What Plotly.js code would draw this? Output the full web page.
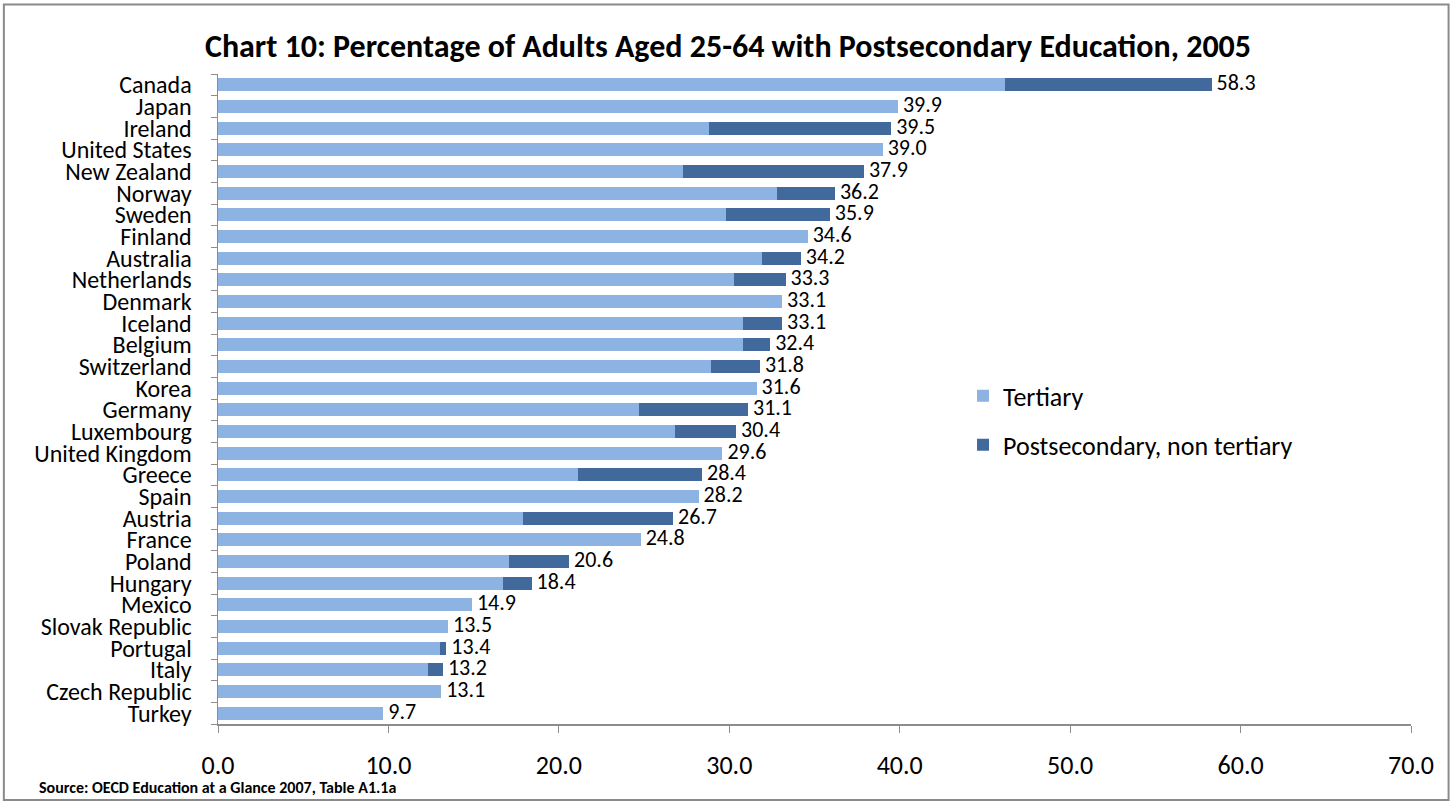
<!DOCTYPE html>
<html>
<head>
<meta charset="utf-8">
<script src="https://cdn.plot.ly/plotly-3.0.1.min.js"></script>
<style>
  html, body { margin: 0; padding: 0; background: #fff; }
  #chart { width: 1456px; height: 804px; }
</style>
</head>
<body>
<div id="chart"></div>
<script>
// Countries, top to bottom
const countries = [
  "Canada", "Japan", "Ireland", "United States", "New Zealand", "Norway",
  "Sweden", "Finland", "Australia", "Netherlands", "Denmark", "Iceland",
  "Belgium", "Switzerland", "Korea", "Germany", "Luxembourg", "United Kingdom",
  "Greece", "Spain", "Austria", "France", "Poland", "Hungary", "Mexico",
  "Slovak Republic", "Portugal", "Italy", "Czech Republic", "Turkey"
];

// Tertiary share (%)
const tertiary = [
  46.2, 39.9, 28.8, 39.0, 27.3, 32.8,
  29.8, 34.6, 31.9, 30.3, 33.1, 30.8,
  30.8, 28.9, 31.6, 24.7, 26.8, 29.6,
  21.1, 28.2, 17.9, 24.8, 17.1, 16.7, 14.9,
  13.5, 13.0, 12.3, 13.1, 9.7
];

// Postsecondary, non tertiary share (%)
const postNonTertiary = [
  12.1, 0.0, 10.7, 0.0, 10.6, 3.4,
  6.1, 0.0, 2.3, 3.0, 0.0, 2.3,
  1.6, 2.9, 0.0, 6.4, 3.6, 0.0,
  7.3, 0.0, 8.8, 0.0, 3.5, 1.7, 0.0,
  0.0, 0.4, 0.9, 0.0, 0.0
];

// Total labels shown at the end of each bar
const totals = [
  58.3, 39.9, 39.5, 39.0, 37.9, 36.2,
  35.9, 34.6, 34.2, 33.3, 33.1, 33.1,
  32.4, 31.8, 31.6, 31.1, 30.4, 29.6,
  28.4, 28.2, 26.7, 24.8, 20.6, 18.4, 14.9,
  13.5, 13.4, 13.2, 13.1, 9.7
];

const xTicks = [0, 10, 20, 30, 40, 50, 60, 70];

const FONT = "Carlito, Calibri, Lato, sans-serif";

const traces = [
  {
    type: "bar", orientation: "h", name: "Tertiary",
    y: countries, x: tertiary,
    marker: { color: "#8DB3E2", line: { width: 0 } },
    legendgroup: "a", hoverinfo: "x+y"
  },
  {
    type: "bar", orientation: "h", name: "Postsecondary, non tertiary",
    y: countries, x: postNonTertiary,
    marker: { color: "#41699C", line: { width: 0 } },
    legendgroup: "b", hoverinfo: "x+y"
  },
  {
    // value labels at the end of each stacked bar
    type: "scatter", mode: "text", showlegend: false,
    y: countries, x: totals,
    text: totals.map(v => " " + v.toFixed(1)),
    textposition: "middle right",
    textfont: { family: FONT, size: 22, color: "#000" },
    hoverinfo: "skip", cliponaxis: false
  }
];

const layout = {
  width: 1456, height: 804,
  paper_bgcolor: "#fff", plot_bgcolor: "#fff",
  margin: { l: 218, r: 45, t: 74, b: 80 },
  barmode: "stack", bargap: 0.4,
  font: { family: FONT, size: 20, color: "#000" },
  title: {
    text: "<b>Chart 10: Percentage of Adults Aged 25-64 with Postsecondary Education, 2005</b>",
    font: { family: FONT, size: 32, color: "#000" },
    x: 0.5, xanchor: "center", y: 0.943, yanchor: "middle"
  },
  xaxis: {
    range: [0, 70], autorange: false,
    tickmode: "array", tickvals: xTicks, ticktext: xTicks.map(v => v.toFixed(1)),
    showgrid: false, zeroline: false,
    showline: true, linecolor: "#8c8c8c", linewidth: 1.5,
    ticks: "outside", ticklen: 7, tickcolor: "#8c8c8c",
    tickfont: { family: FONT, size: 26, color: "#000" },
    ticklabelstandoff: 10, fixedrange: true
  },
  yaxis: {
    type: "category", range: [29.5, -0.5], autorange: false,
    tickmode: "array", tickvals: countries, ticktext: countries,
    showgrid: false, zeroline: false,
    showline: true, linecolor: "#8c8c8c", linewidth: 1.5,
    ticks: "outside", ticklen: 6, tickcolor: "#8c8c8c", tickson: "boundaries",
    tickfont: { family: FONT, size: 24, color: "#000" },
    ticklabelstandoff: 20, fixedrange: true
  },
  legend: {
    x: 0.6245, y: 0.467, xanchor: "left", yanchor: "middle",
    traceorder: "grouped", tracegroupgap: 12,
    font: { family: FONT, size: 26, color: "#000" },
    bgcolor: "rgba(0,0,0,0)"
  },
  annotations: [
    {
      xref: "paper", yref: "paper", x: -0.152, y: -0.097,
      xanchor: "left", yanchor: "middle", showarrow: false,
      text: "<b>Source: OECD Education at a Glance 2007, Table A1.1a</b>",
      font: { family: FONT, size: 16, color: "#000" }
    }
  ],
  shapes: [
    {
      type: "rect", xref: "paper", yref: "paper",
      x0: -0.1795, x1: 1.0315, y0: -0.117, y1: 1.107,
      line: { color: "#8a8a8a", width: 2 }, fillcolor: "rgba(0,0,0,0)"
    }
  ],
  showlegend: true
};

Plotly.newPlot("chart", traces, layout, { displayModeBar: false, staticPlot: true });
</script>
</body>
</html>
